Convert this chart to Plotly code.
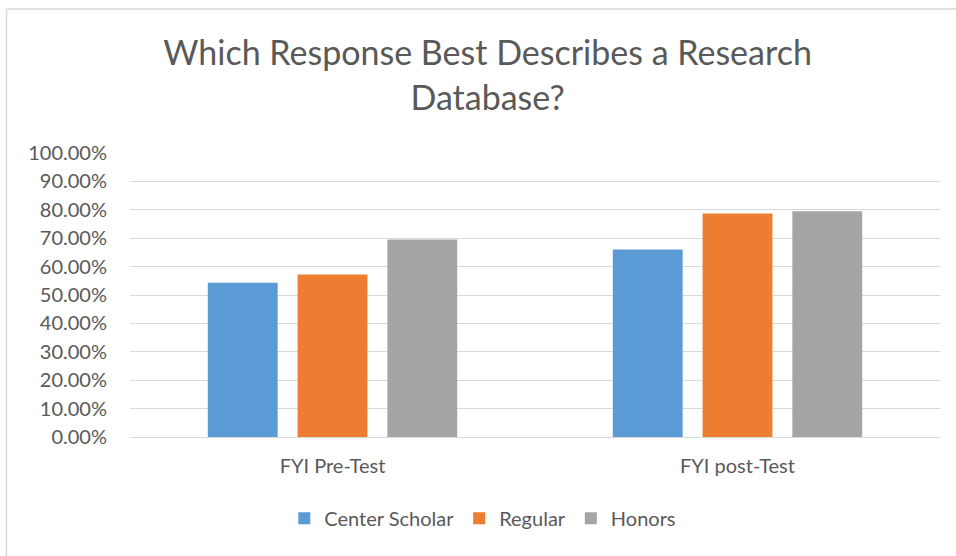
import plotly.graph_objects as go

categories = ["FYI Pre-Test", "FYI post-Test"]
series_names = ["Center Scholar", "Regular", "Honors"]
center_scholar = [0.543, 0.660]
regular = [0.572, 0.787]
honors = [0.695, 0.795]
tick_vals = [i / 10 for i in range(11)]
tick_text = [f"{v*100:.2f}%" for v in tick_vals]

colors = ["#5B9BD5", "#ED7D31", "#A5A5A5"]
FONT = "Lato"

fig = go.Figure()
for name, vals, col in zip(series_names, [center_scholar, regular, honors], colors):
    fig.add_trace(go.Bar(x=categories, y=vals, name=name, marker=dict(color=col, line=dict(width=0))))

fig.update_layout(
    width=956, height=556,
    margin=dict(l=130, r=16, t=153, b=119),
    paper_bgcolor="white", plot_bgcolor="white",
    barmode="group", bargap=0.335, bargroupgap=0.222,
    font=dict(family=FONT, color="#595959"),
    title=dict(text="Which Response Best Describes a Research<br>Database?",
               x=0.51, xanchor="center", y=0.8825, yanchor="middle", yref="container",
               font=dict(size=34, color="#595959", family=FONT)),
    xaxis=dict(showgrid=False, showline=True, linecolor="#D9D9D9", linewidth=1,
               tickfont=dict(size=20, color="#595959"), ticks="", ticklabelstandoff=11),
    yaxis=dict(range=[0, 1.0], tickvals=tick_vals, ticktext=tick_text,
               showgrid=True, gridcolor="#D9D9D9", gridwidth=1, zeroline=False,
               tickfont=dict(size=20, color="#595959"), ticklabelstandoff=22),
    legend=dict(orientation="h", x=0.505, xanchor="center", xref="container",
                y=0.068, yanchor="middle", yref="container",
                font=dict(size=20, color="#595959"), itemwidth=30, traceorder="normal"),
    showlegend=True,
)
fig.add_shape(type="line", xref="paper", yref="paper", x0=-0.1525, x1=-0.1525, y0=-0.6, y1=1.507,
              line=dict(color="#D9D9D9", width=1.5))
fig.add_shape(type="line", xref="paper", yref="paper", x0=-0.1525, x1=1.03, y0=1.507, y1=1.507,
              line=dict(color="#D9D9D9", width=1.5))

fig.write_html("out.html", config={"displayModeBar": False})

with open("out.html", "r", encoding="utf-8") as f:
    html = f.read()
html = html.replace("<head>", "<head><style>html,body{margin:0;padding:0;overflow:hidden;}</style>", 1)
with open("out.html", "w", encoding="utf-8") as f:
    f.write(html)
